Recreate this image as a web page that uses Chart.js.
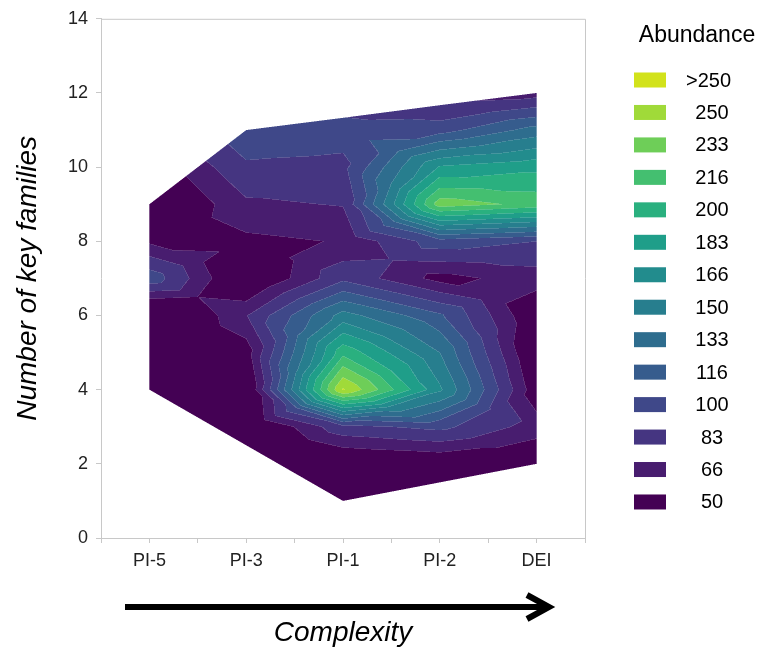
<!DOCTYPE html>
<html>
<head>
<meta charset="utf-8">
<title>Abundance by complexity</title>
<script src="https://cdn.jsdelivr.net/npm/chart.js@4.4.1/dist/chart.umd.min.js"></script>
<style>
  body { margin: 0; background: #fff; }
  canvas { display: block; }
</style>
</head>
<body>
<canvas id="contour" width="761" height="653"></canvas>
<script>
var categories = ['PI-5', 'PI-3', 'PI-1', 'PI-2', 'DEI'];
// number of key families, one row per value
var families = [1, 2, 3, 4, 5, 6, 7, 8, 9, 10, 11, 12];

// abundance per site, listed along families
var abundancePI5 = [28, 28, 28, 28, 28, 14, 94, 47, 23, 38, 63, 63];
var abundancePI3 = [23, 23, 23, 28, 41, 65, 26, 46, 63, 80, 96, 93];
var abundancePI1 = [23, 28, 78, 252, 195, 140, 79, 51, 67, 78, 91, 68];
var abundancePI2 = [28, 33, 88, 153, 133, 103, 44, 93, 225, 168, 93, 53];
var abundanceDEI = [28, 33, 58, 38, 28, 33, 58, 83, 211, 178, 123, 58];

// sampled range of families at each site
var familyMin = [4, 2.5, 1, 1.5, 2];
var familyMax = [9, 11, 11.33, 11.67, 12];

var levels = [50, 66, 83, 100, 116, 133, 150, 166, 183, 200, 216, 233, 250];
var levelColors = ['#440154', '#481d6f', '#453581', '#3f4889', '#365c8d', '#2e6d8e', '#277e8e',
                   '#228c8d', '#1f9e89', '#2ab07f', '#44bf70', '#6ece58', '#a0da39', '#d2e21b'];
var yTicks = [0, 2, 4, 6, 8, 10, 12, 14];

var columns = [abundancePI5, abundancePI3, abundancePI1, abundancePI2, abundanceDEI];
var FONT = "'Liberation Sans', Arial, sans-serif";

function hexToRgb(h) {
	return [parseInt(h.substr(1, 2), 16), parseInt(h.substr(3, 2), 16), parseInt(h.substr(5, 2), 16)];
}

function inside(xv, yv) {
	if (xv < 0 || xv > categories.length - 1) return false;
	var i = Math.min(Math.floor(xv), categories.length - 2);
	var t = xv - i;
	var lo = familyMin[i] + (familyMin[i + 1] - familyMin[i]) * t;
	var hi = familyMax[i] + (familyMax[i + 1] - familyMax[i]) * t;
	return yv >= lo && yv <= hi;
}

// each grid cell is cut into four triangles around its centre and
// interpolated linearly inside each one
function valueAt(xv, yv) {
	var i = Math.max(0, Math.min(Math.floor(xv), columns.length - 2));
	var fy0 = yv - families[0];
	var j = Math.max(0, Math.min(Math.floor(fy0), families.length - 2));
	var fx = xv - i, fy = fy0 - j;
	var a = columns[i][j], b = columns[i + 1][j];
	var c = columns[i][j + 1], d = columns[i + 1][j + 1];
	var m = (a + b + c + d) / 4;
	if (fy <= fx && fy <= 1 - fx) return a + (b - a) * fx + (2 * m - a - b) * fy;
	if (fy >= fx && fy >= 1 - fx) return c + (d - c) * fx + (c + d - 2 * m) * (fy - 1);
	if (fx <= fy && fx <= 1 - fy) return a + (c - a) * fy + (2 * m - a - c) * fx;
	return b + (d - b) * fy + (b + d - 2 * m) * (fx - 1);
}

function bandOf(v) {
	var k = 0;
	while (k < levels.length && v > levels[k]) k++;
	return k;
}

var contourPlugin = {
	id: 'contourFill',
	beforeDatasetsDraw: function(chart) {
		var area = chart.chartArea, xs = chart.scales.x, ys = chart.scales.y;
		var left = Math.floor(area.left), top = Math.floor(area.top);
		var w = Math.ceil(area.right) - left, h = Math.ceil(area.bottom) - top;
		var off = document.createElement('canvas');
		off.width = w; off.height = h;
		var octx = off.getContext('2d');
		var img = octx.createImageData(w, h);
		var rgb = levelColors.map(hexToRgb);
		var n = 3;
		for (var py = 0; py < h; py++) {
			for (var px = 0; px < w; px++) {
				var r = 0, g = 0, bl = 0, cnt = 0, first = -1, mixed = false;
				for (var sy = 0; sy < n; sy++) {
					var yv = ys.getValueForPixel(top + py + (sy + 0.5) / n);
					for (var sx = 0; sx < n; sx++) {
						var xv = xs.getValueForPixel(left + px + (sx + 0.5) / n);
						if (!inside(xv, yv)) continue;
						var k = bandOf(valueAt(xv, yv));
						if (first < 0) first = k; else if (k !== first) mixed = true;
						r += rgb[k][0]; g += rgb[k][1]; bl += rgb[k][2]; cnt++;
					}
				}
				if (!cnt) continue;
				r /= cnt; g /= cnt; bl /= cnt;
				if (mixed) {
					// faint light line where two bands meet
					r += (255 - r) * 0.15; g += (255 - g) * 0.15; bl += (255 - bl) * 0.15;
				}
				var p = (py * w + px) * 4;
				img.data[p] = r; img.data[p + 1] = g; img.data[p + 2] = bl;
				img.data[p + 3] = Math.round(255 * cnt / (n * n));
			}
		}
		octx.putImageData(img, 0, 0);
		chart.ctx.drawImage(off, left, top);
	},
	afterDraw: function(chart) {
		var ctx = chart.ctx, area = chart.chartArea;
		ctx.save();
		// close the frame on top and right
		ctx.strokeStyle = '#c8c8c8';
		ctx.lineWidth = 1;
		ctx.beginPath();
		ctx.moveTo(area.left, area.top + 0.5);
		ctx.lineTo(area.right + 0.5, area.top + 0.5);
		ctx.lineTo(area.right + 0.5, area.bottom);
		ctx.stroke();

		// complexity arrow
		ctx.strokeStyle = '#000';
		ctx.lineWidth = 6;
		ctx.beginPath();
		ctx.moveTo(125, 607);
		ctx.lineTo(548, 607);
		ctx.stroke();
		ctx.lineJoin = 'miter';
		ctx.beginPath();
		ctx.moveTo(527, 595);
		ctx.lineTo(549, 607);
		ctx.lineTo(527, 619);
		ctx.stroke();

		// legend
		ctx.fillStyle = '#000';
		ctx.font = '23px ' + FONT;
		ctx.textAlign = 'center';
		ctx.textBaseline = 'middle';
		ctx.fillText('Abundance', 697, 36);
		ctx.font = '20px ' + FONT;
		for (var k = levelColors.length - 1; k >= 0; k--) {
			var row = levelColors.length - 1 - k;
			var cy = 80 + row * 32.46;
			ctx.fillStyle = levelColors[k];
			ctx.fillRect(634, cy - 7.5, 32, 15);
			ctx.fillStyle = '#000';
			if (k === levels.length) {
				ctx.textAlign = 'right';
				ctx.fillText('>' + levels[levels.length - 1], 731, cy + 1);
			} else {
				ctx.textAlign = 'center';
				ctx.fillText(String(levels[k]), 712, cy + 1);
			}
		}
		ctx.restore();
	}
};

var ctx = document.getElementById('contour');
new Chart(ctx, {
	type: 'scatter',
	data: { datasets: [{ data: [], pointRadius: 0 }] },
	options: {
		responsive: false,
		animation: false,
		devicePixelRatio: 1,
		layout: { padding: { top: 14, right: 176, left: 0, bottom: 0 } },
		plugins: { legend: { display: false }, tooltip: { enabled: false } },
		scales: {
			x: {
				type: 'linear',
				min: -0.5,
				max: 4.5,
				afterFit: function(s) { s.height = 115; },
				grid: { drawOnChartArea: false, tickLength: 5, color: '#c8c8c8' },
				border: { color: '#c8c8c8' },
				ticks: {
					stepSize: 0.5,
					autoSkip: false,
					maxRotation: 0,
					padding: 7,
					color: '#222',
					font: { family: FONT, size: 18 },
					callback: function(v) { return Number.isInteger(v) ? categories[v] : ''; }
				},
				title: {
					display: true,
					text: 'Complexity',
					color: '#000',
					padding: { top: 0, bottom: 3 },
					font: { family: FONT, size: 28, style: 'italic' }
				}
			},
			y: {
				min: yTicks[0],
				max: yTicks[yTicks.length - 1],
				afterFit: function(s) { s.width = 101; },
				afterBuildTicks: function(s) { s.ticks = yTicks.map(function(v) { return { value: v }; }); },
				grid: { drawOnChartArea: false, tickLength: 5, color: '#c8c8c8' },
				border: { color: '#c8c8c8' },
				ticks: { padding: 8, color: '#222', font: { family: FONT, size: 18 } },
				title: {
					display: true,
					text: 'Number of key families',
					color: '#000',
					padding: { top: 11, bottom: 0 },
					font: { family: FONT, size: 28, style: 'italic' }
				}
			}
		}
	},
	plugins: [contourPlugin]
});
</script>
</body>
</html>
